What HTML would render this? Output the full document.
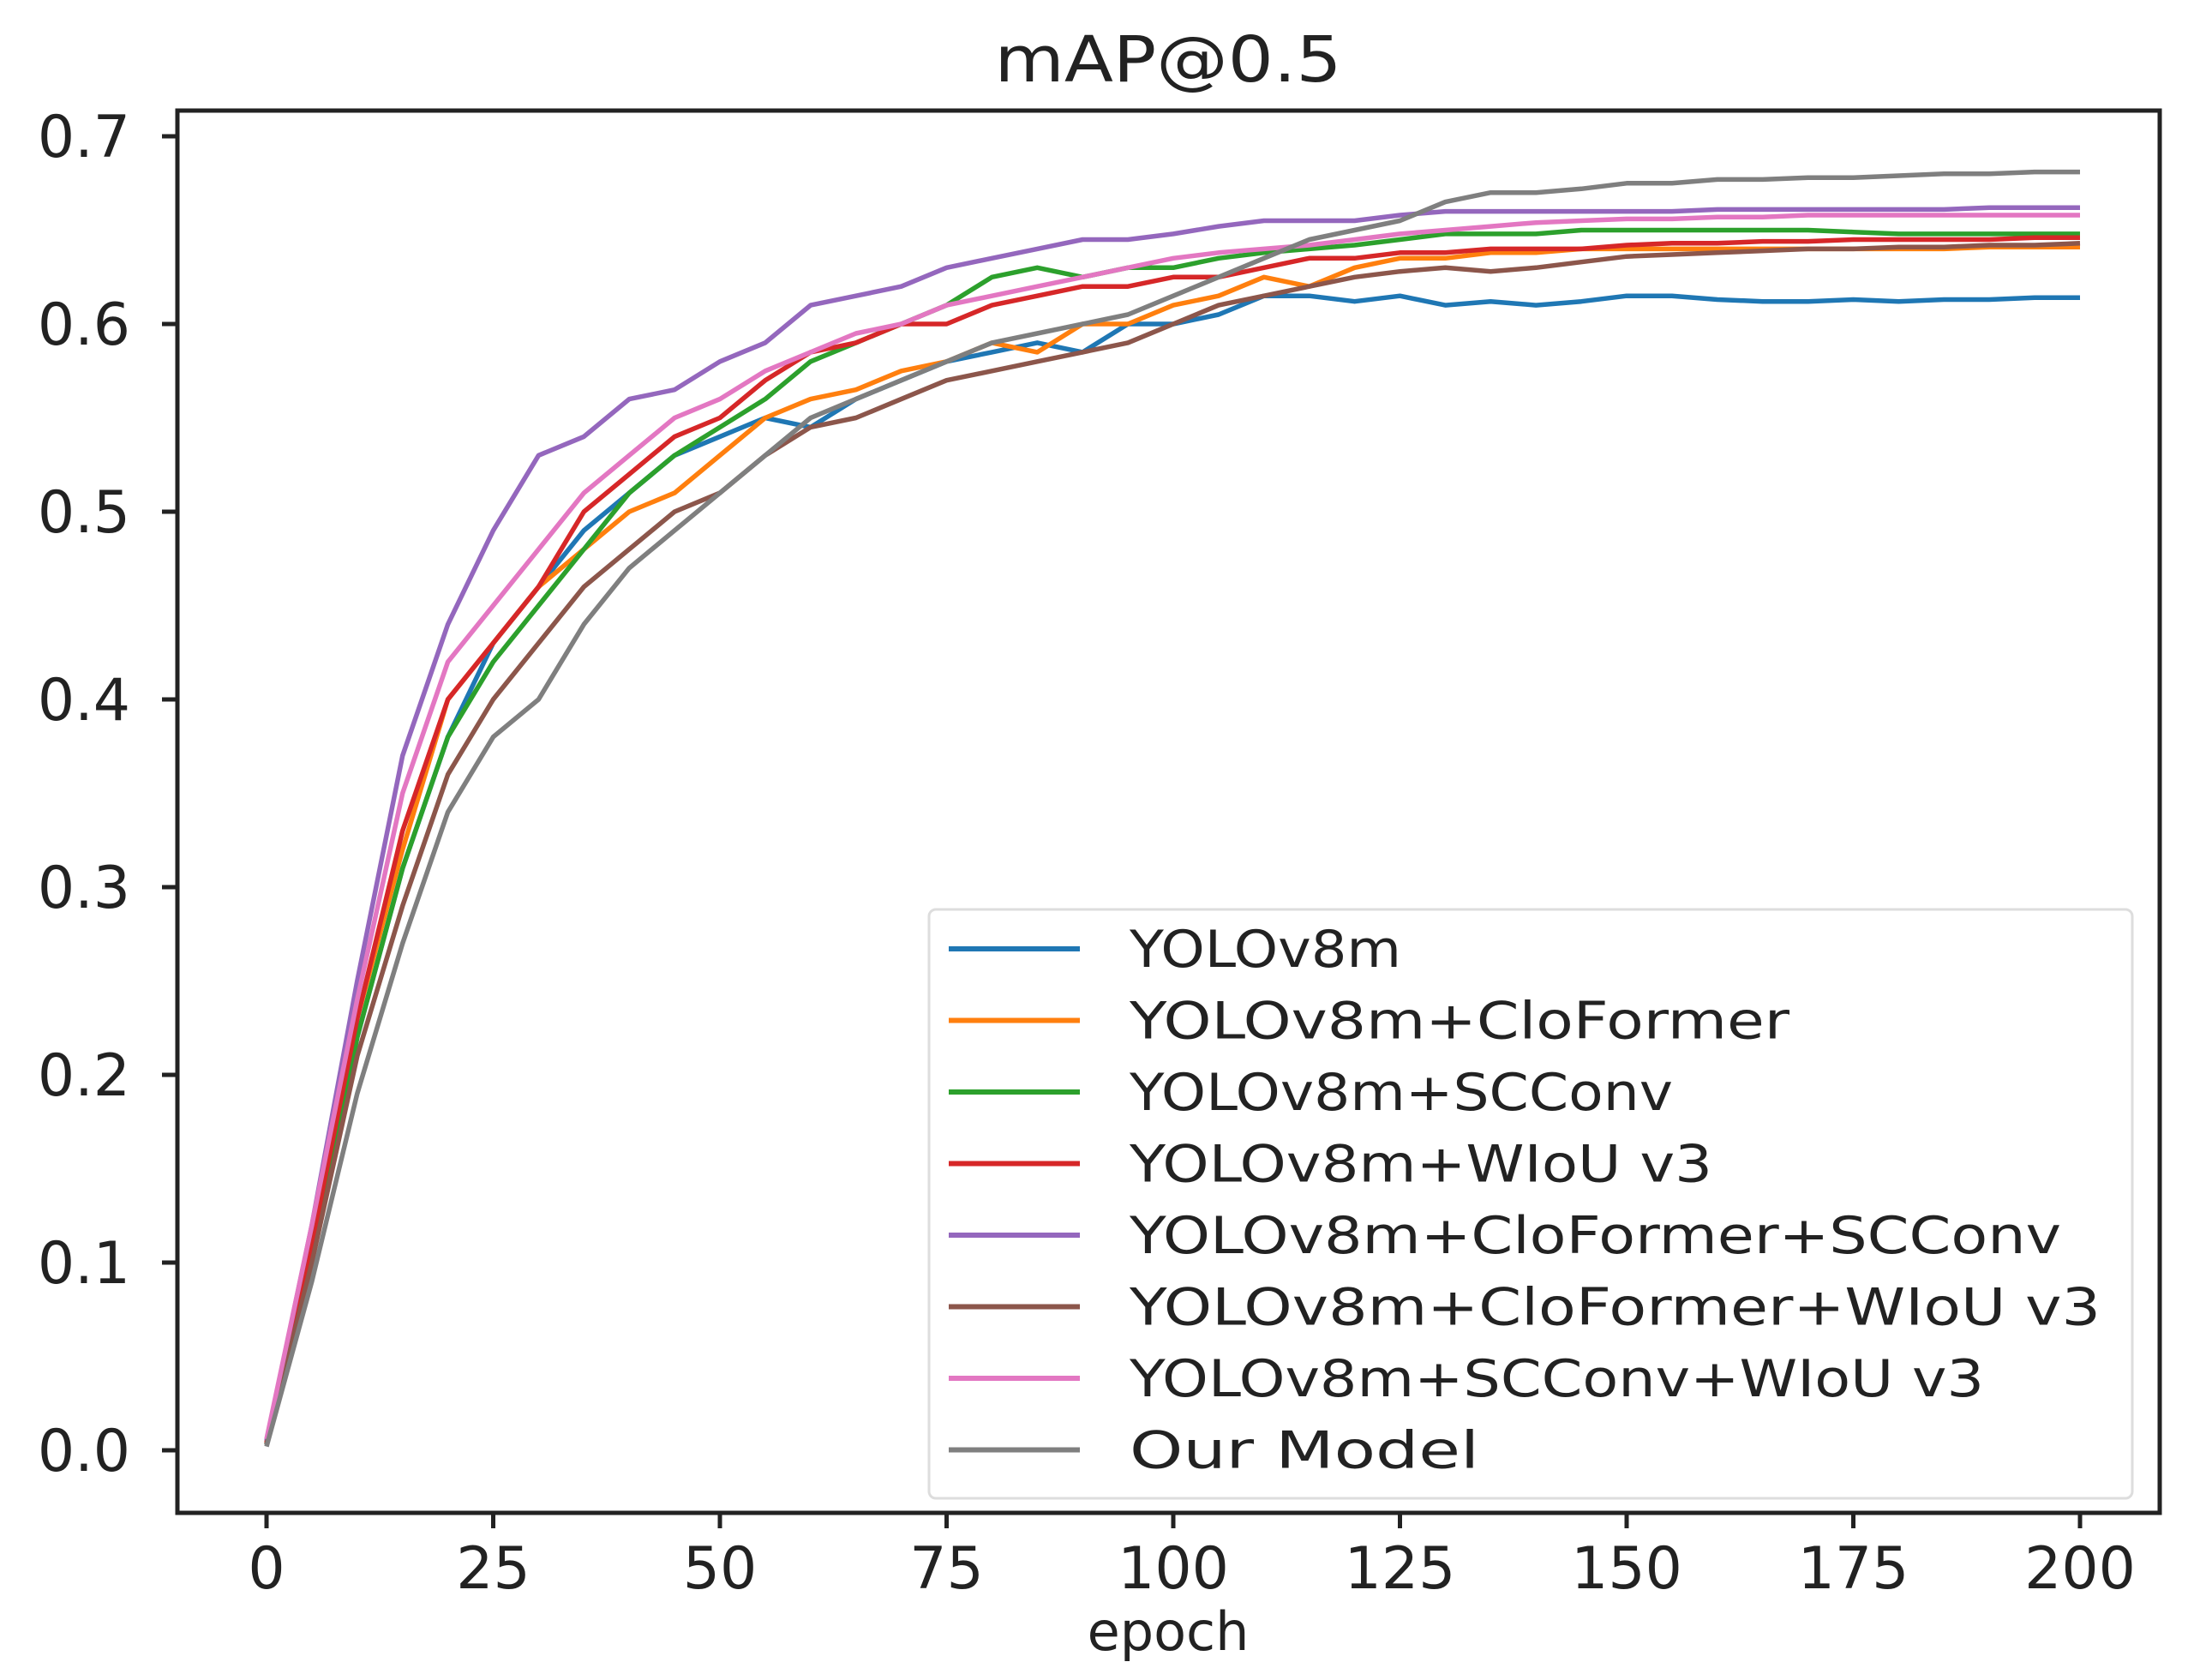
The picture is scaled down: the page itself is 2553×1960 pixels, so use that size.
<!DOCTYPE html>
<html><head><meta charset="utf-8"><style>
html,body{margin:0;padding:0;background:#fff;}
svg{display:block;font-family:"DejaVu Sans","Liberation Sans",sans-serif;}
</style></head><body>
<svg id="chart" width="2553" height="1960" viewBox="0 0 2553 1960">
<text x="1363" y="95" font-size="74" text-anchor="middle" fill="#222" textLength="405" lengthAdjust="spacingAndGlyphs">mAP@0.5</text>
<g id="plot"></g>
<g id="axes"></g>
<g id="legend"></g>
<text x="1363" y="1925" font-size="62" text-anchor="middle" fill="#222">epoch</text>
</svg>
<script>
const epochs = [0,5,10,15,20,25,30,35,40,45,50,55,60,65,70,75,80,85,90,95,100,105,110,115,120,125,130,135,140,145,150,155,160,165,170,175,180,185,190,195,200];
const seriesNames = ["YOLOv8m","YOLOv8m+CloFormer","YOLOv8m+SCConv","YOLOv8m+WIoU v3","YOLOv8m+CloFormer+SCConv","YOLOv8m+CloFormer+WIoU v3","YOLOv8m+SCConv+WIoU v3","Our Model"];
const seriesColors = ["#1f77b4","#ff7f0e","#2ca02c","#d62728","#9467bd","#8c564b","#e377c2","#7f7f7f"];
const yolo = [0.003,0.10,0.22,0.31,0.38,0.43,0.46,0.49,0.51,0.53,0.54,0.55,0.545,0.56,0.57,0.58,0.585,0.59,0.585,0.60,0.60,0.605,0.615,0.615,0.612,0.615,0.61,0.612,0.61,0.612,0.615,0.615,0.613,0.612,0.612,0.613,0.612,0.613,0.613,0.614,0.614];
const cloformer = [0.004,0.11,0.23,0.32,0.40,0.43,0.46,0.48,0.50,0.51,0.53,0.55,0.56,0.565,0.575,0.58,0.59,0.585,0.60,0.60,0.61,0.615,0.625,0.62,0.63,0.635,0.635,0.638,0.638,0.64,0.64,0.64,0.64,0.64,0.64,0.64,0.64,0.64,0.641,0.641,0.641];
const scconv = [0.003,0.10,0.22,0.31,0.38,0.42,0.45,0.48,0.51,0.53,0.545,0.56,0.58,0.59,0.60,0.61,0.625,0.63,0.625,0.63,0.63,0.635,0.638,0.64,0.642,0.645,0.648,0.648,0.648,0.65,0.65,0.65,0.65,0.65,0.65,0.649,0.648,0.648,0.648,0.648,0.648];
const wiou = [0.004,0.11,0.23,0.33,0.40,0.43,0.46,0.50,0.52,0.54,0.55,0.57,0.585,0.59,0.60,0.60,0.61,0.615,0.62,0.62,0.625,0.625,0.63,0.635,0.635,0.638,0.638,0.64,0.64,0.64,0.642,0.643,0.643,0.644,0.644,0.645,0.645,0.645,0.645,0.646,0.646];
const cloScconv = [0.005,0.12,0.25,0.37,0.44,0.49,0.53,0.54,0.56,0.565,0.58,0.59,0.61,0.615,0.62,0.63,0.635,0.64,0.645,0.645,0.648,0.652,0.655,0.655,0.655,0.658,0.66,0.66,0.66,0.66,0.66,0.66,0.661,0.661,0.661,0.661,0.661,0.661,0.662,0.662,0.662];
const cloWiou = [0.003,0.10,0.21,0.29,0.36,0.40,0.43,0.46,0.48,0.50,0.51,0.53,0.545,0.55,0.56,0.57,0.575,0.58,0.585,0.59,0.60,0.61,0.615,0.62,0.625,0.628,0.63,0.628,0.63,0.633,0.636,0.637,0.638,0.639,0.64,0.64,0.641,0.641,0.642,0.642,0.643];
const scWiou = [0.006,0.12,0.24,0.35,0.42,0.45,0.48,0.51,0.53,0.55,0.56,0.575,0.585,0.595,0.60,0.61,0.615,0.62,0.625,0.63,0.635,0.638,0.64,0.642,0.645,0.648,0.65,0.652,0.654,0.655,0.656,0.656,0.657,0.657,0.658,0.658,0.658,0.658,0.658,0.658,0.658];
const ourModel = [0.002,0.09,0.19,0.27,0.34,0.38,0.40,0.44,0.47,0.49,0.51,0.53,0.55,0.56,0.57,0.58,0.59,0.595,0.60,0.605,0.615,0.625,0.635,0.645,0.65,0.655,0.665,0.67,0.67,0.672,0.675,0.675,0.677,0.677,0.678,0.678,0.679,0.68,0.68,0.681,0.681];
const xTicks = [0,25,50,75,100,125,150,175,200];
const yTicks = [0.0,0.1,0.2,0.3,0.4,0.5,0.6,0.7];

const NS = "http://www.w3.org/2000/svg";
const L=207, R=2520, T=129, B=1765;
function xs(e){ return 311 + e*(2427-311)/200; }
function ys(v){ return 1692 - v*2190; }
function mk(tag, attrs, parent){ const el=document.createElementNS(NS,tag); for(const k in attrs) el.setAttribute(k,attrs[k]); parent.appendChild(el); return el; }

const plot=document.getElementById('plot');
const allSeries=[yolo,cloformer,scconv,wiou,cloScconv,cloWiou,scWiou,ourModel];
const keys=["yolov8m","cloformer","scconv","wiou-v3","cloformer-scconv","cloformer-wiou-v3","scconv-wiou-v3","our-model"];
allSeries.forEach((s,i)=>{
  const d=s.map((v,j)=>(j?'L':'M')+xs(epochs[j]).toFixed(1)+','+ys(v).toFixed(1)).join(' ');
  const p=mk('path',{d:d,fill:'none',stroke:seriesColors[i],'stroke-width':5.5,'stroke-linejoin':'round'},plot);
  
  
});

const axes=document.getElementById('axes');
const frame=mk('rect',{x:L,y:T,width:R-L,height:B-T,fill:'none',stroke:'#222','stroke-width':5},axes);


xTicks.forEach(t=>{
  const x=xs(t);
  const tk=mk('line',{x1:x,y1:B,x2:x,y2:B+18,stroke:'#222','stroke-width':5},axes);
  
  
  const tx=mk('text',{x:x,y:B+88,'font-size':68,'text-anchor':'middle',fill:'#222'},axes);
  tx.textContent=t;
  
  
});
yTicks.forEach(t=>{
  const y=ys(t);
  const tk=mk('line',{x1:L-18,y1:y,x2:L,y2:y,stroke:'#222','stroke-width':5},axes);
  
  
  const tx=mk('text',{x:152,y:y+24,'font-size':68,'text-anchor':'end',fill:'#222'},axes);
  tx.textContent=t.toFixed(1);
  
  
});

const lg=document.getElementById('legend');
const box=mk('rect',{x:1084,y:1061,width:1404,height:687,rx:8,fill:'#fff','fill-opacity':0.85,stroke:'#ddd','stroke-width':3},lg);


seriesNames.forEach((n,i)=>{
  const y=1107+i*83.5;
  const ln=mk('line',{x1:1107,y1:y,x2:1260,y2:y,stroke:seriesColors[i],'stroke-width':6},lg);
  
  
  const tx=mk('text',{x:1318,y:y+21,'font-size':60,fill:'#222'},lg);
  tx.textContent=n;
  tx.setAttribute('textLength', (n.length*45.3).toFixed(0));
  tx.setAttribute('lengthAdjust','spacingAndGlyphs');
  
  
});
</script>
</body></html>
